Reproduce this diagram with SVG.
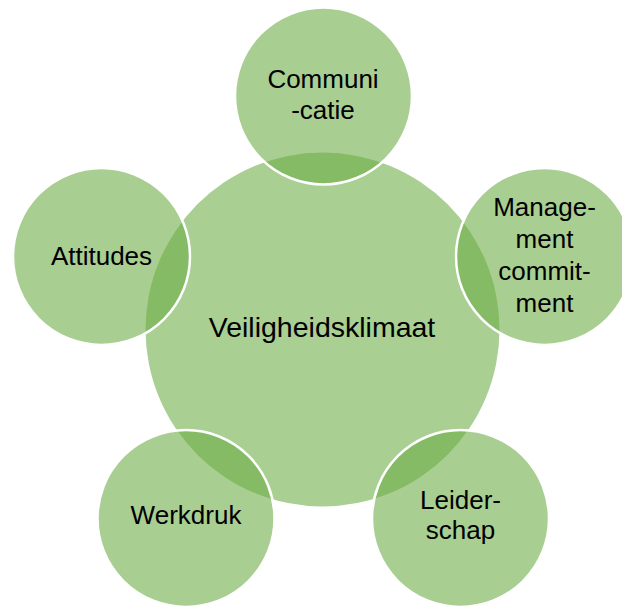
<svg xmlns="http://www.w3.org/2000/svg" width="622" height="606" viewBox="0 0 622 606">
  <style>
    .hub { fill: #a9cf93; }
    .sat { fill: #70ad47; fill-opacity: 0.6; stroke: #ffffff; stroke-width: 2.5; }
    .lbl { font-family: "Liberation Sans", Arial, sans-serif; font-size: 26px; fill: #000000; text-anchor: middle; }
    .lbl.big { font-size: 28.5px; }
  </style>
  <rect width="622" height="606" fill="#ffffff"/>
  <g id="node-veiligheidsklimaat">
    <circle class="hub" cx="322.5" cy="329.5" r="177"/>
    <text class="lbl big" x="322" y="337">Veiligheidsklimaat</text>
  </g>
  <g id="connectors"/>
  <g id="node-communicatie">
    <circle class="sat" cx="323.5" cy="96" r="88.5"/>
    <text class="lbl" x="323" y="88">Communi</text>
    <text class="lbl" x="323" y="119">-catie</text>
  </g>
  <g id="node-management-commitment">
    <circle class="sat" cx="544.5" cy="256.5" r="88.5"/>
    <text class="lbl" x="544.5" y="216">Manage-</text>
    <text class="lbl" x="544.5" y="248">ment</text>
    <text class="lbl" x="544.5" y="280">commit-</text>
    <text class="lbl" x="544.5" y="312">ment</text>
  </g>
  <g id="node-leiderschap">
    <circle class="sat" cx="460.5" cy="518.5" r="88.5"/>
    <text class="lbl" x="460.5" y="509">Leider-</text>
    <text class="lbl" x="460.5" y="539">schap</text>
  </g>
  <g id="node-werkdruk">
    <circle class="sat" cx="186" cy="518.5" r="88.5"/>
    <text class="lbl" x="186" y="524">Werkdruk</text>
  </g>
  <g id="node-attitudes">
    <circle class="sat" cx="101.5" cy="256.5" r="88.5"/>
    <text class="lbl" x="101.5" y="265">Attitudes</text>
  </g>
</svg>
